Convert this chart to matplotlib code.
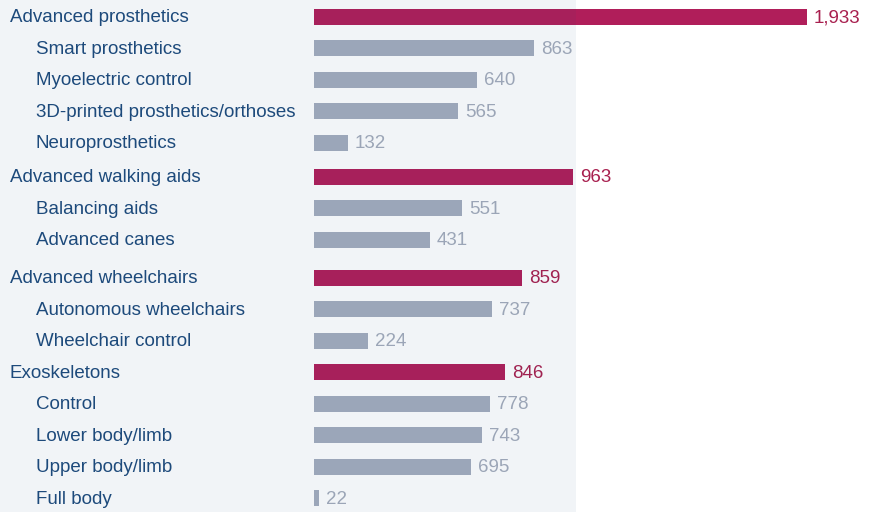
import numpy as np
import matplotlib
matplotlib.use('Agg')
import matplotlib.pyplot as plt
from matplotlib.patches import Rectangle
from matplotlib.transforms import blended_transform_factory, ScaledTranslation

plt.rcParams['font.family'] = ['Liberation Sans', 'DejaVu Sans']

# Data: groups with their sub-categories
groups = ['Advanced prosthetics', 'Advanced walking aids',
          'Advanced wheelchairs', 'Exoskeletons']
group_values = [1933, 963, 859, 846]
sub_labels = [
    ['Smart prosthetics', 'Myoelectric control',
     '3D-printed prosthetics/orthoses', 'Neuroprosthetics'],
    ['Balancing aids', 'Advanced canes'],
    ['Autonomous wheelchairs', 'Wheelchair control'],
    ['Control', 'Lower body/limb', 'Upper body/limb', 'Full body'],
]
sub_values = [
    [863, 640, 565, 132],
    [551, 431],
    [737, 224],
    [778, 743, 695, 22],
]

# Styling / layout
text_col = '#1d4a7c'
red = '#b01e5a'
grey = '#a3acbd'
red_txt = '#a8204f'
grey_txt = '#a3abbb'
group_gap = [0.08, 0.21, 0.0]        # extra spacing after each group (rows)
px_per_unit = [0.2551, 0.269, 0.242, 0.226]  # each group has its own x scale
fs = 13.5

fig = plt.figure(figsize=(8.7, 5.12), dpi=100)
down = ScaledTranslation(0, -1 / 100, fig.dpi_scale_trans)

y = 0.0
for gi, g in enumerate(groups):
    ax = fig.add_axes([314 / 870, 0, 556 / 870, 1])
    ax.set_xlim(0, 556 / px_per_unit[gi])
    ax.set_ylim(15.72, -0.535)
    ax.axis('off')
    trans = blended_transform_factory(fig.transFigure, ax.transData) + down

    rows = [(g, group_values[gi], True)] + \
           [(s, v, False) for s, v in zip(sub_labels[gi], sub_values[gi])]
    for lab, val, is_group in rows:
        ax.barh(y, val, height=0.51, color=red if is_group else grey, zorder=2)
        ax.annotate(f'{val:,}', (val, y), xytext=(5, -0.7),
                    textcoords='offset points', va='center', ha='left',
                    fontsize=fs, color=red_txt if is_group else grey_txt)
        xt = 10 / 870 if is_group else 36 / 870
        ax.text(xt, y, lab, transform=trans, va='center', ha='left',
                fontsize=fs, color=text_col)
        y += 1
    if gi < len(group_gap):
        y += group_gap[gi]

# light panel over the labels and left part of bars
fig.patches.append(Rectangle((0, 0), 576 / 870, 1, transform=fig.transFigure,
                             facecolor='#1f4e79', alpha=0.06, zorder=10,
                             edgecolor='none'))

fig.savefig('out.png', dpi=100)
